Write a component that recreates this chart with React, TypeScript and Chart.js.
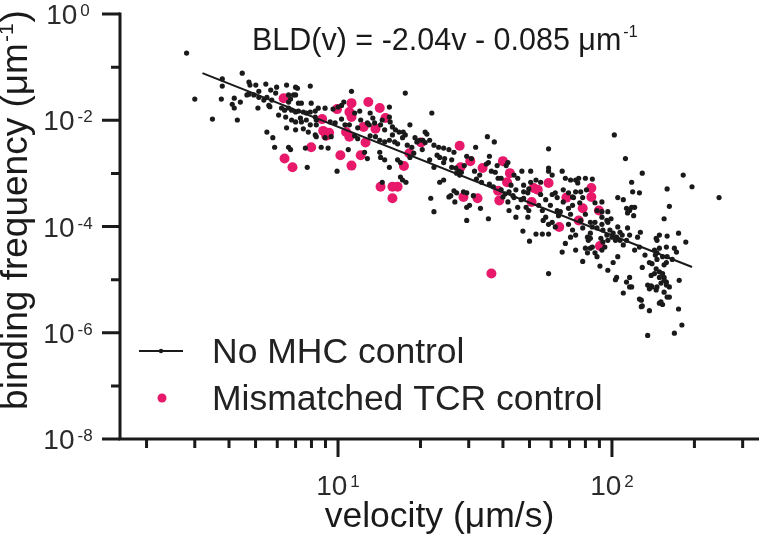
import React, { useEffect, useRef } from "react";
import { Chart, registerables } from "chart.js";

Chart.register(...registerables);

// ---------- data (velocity µm/s, binding frequency µm^-1) ----------
const noMhcControl: [number, number][] = [
  [2.80, 0.184], [4.47, 0.077], [3.78, 0.060], [3.78, 0.044], [3.00, 0.025], [3.75, 0.025], [4.18, 0.026], [4.40, 0.022],
  [4.11, 0.020], [4.18, 0.017], [3.48, 0.0105], [4.29, 0.0101], [4.73, 0.0525], [4.77, 0.046], [5.01, 0.046], [5.45, 0.048],
  [5.68, 0.037], [5.97, 0.042], [5.92, 0.0325], [6.49, 0.046], [7.00, 0.042], [7.11, 0.040], [6.88, 0.030], [7.92, 0.044],
  [4.73, 0.031], [5.14, 0.035], [4.65, 0.030], [5.14, 0.027], [5.50, 0.027], [5.59, 0.019], [5.64, 0.018], [5.10, 0.017],
  [6.60, 0.030], [6.71, 0.025], [6.60, 0.022], [7.00, 0.030], [7.35, 0.021], [7.17, 0.021], [7.98, 0.021], [6.22, 0.017],
  [6.38, 0.0155], [6.60, 0.017], [6.77, 0.0155], [7.00, 0.0143], [7.17, 0.0149], [7.47, 0.0143], [7.66, 0.0137], [7.92, 0.0143],
  [8.26, 0.0149], [6.44, 0.0115], [6.77, 0.0101], [7.00, 0.0093], [7.29, 0.0110], [7.35, 0.0093], [7.66, 0.0101], [8.26, 0.0115],
  [8.33, 0.0101], [6.49, 0.0072], [7.00, 0.0066], [7.47, 0.0069], [7.79, 0.0060], [5.50, 0.0060], [5.78, 0.0047], [5.87, 0.0031],
  [6.60, 0.0031], [6.71, 0.0028], [7.60, 0.0030], [7.72, 0.0013], [8.26, 0.0053], [8.33, 0.0049], [8.47, 0.0169], [8.97, 0.0169],
  [5.73, 0.024], [6.07, 0.0125], [5.36, 0.024], [4.93, 0.030], [8.33, 0.0082], [7.92, 0.0082],
  [11.2, 0.035], [17.6, 0.0325], [10.5, 0.022], [10.3, 0.019], [10.0, 0.0177], [9.59, 0.0162], [11.5, 0.0137], [12.0, 0.0149],
  [13.1, 0.0137], [15.4, 0.0177], [15.4, 0.0115], [15.5, 0.0093], [22.0, 0.0137], [9.36, 0.0093], [9.76, 0.0089], [10.3, 0.0105],
  [10.6, 0.0082], [12.1, 0.0101], [12.8, 0.0089], [13.0, 0.0082], [13.6, 0.0089], [14.3, 0.0082], [14.8, 0.0066], [15.8, 0.0075],
  [16.2, 0.0066], [16.7, 0.0060], [17.3, 0.0060], [17.6, 0.0053], [18.3, 0.0082], [20.8, 0.0060], [21.1, 0.0055], [9.44, 0.0049],
  [8.97, 0.0047], [11.5, 0.0051], [11.8, 0.0045], [13.1, 0.0051], [13.7, 0.0049], [14.2, 0.0042], [14.8, 0.0039], [15.4, 0.0042],
  [16.1, 0.0039], [16.5, 0.0036], [19.1, 0.0047], [19.4, 0.0039], [19.8, 0.0042], [20.4, 0.0042], [20.8, 0.0038], [21.6, 0.0042],
  [22.4, 0.0034], [23.3, 0.0031], [24.3, 0.0030], [25.4, 0.0028], [26.5, 0.0025], [9.20, 0.0030], [8.68, 0.0031], [10.9, 0.0028],
  [12.5, 0.0025], [12.8, 0.0019], [14.2, 0.0025], [14.3, 0.0020], [14.8, 0.0018], [15.4, 0.0013], [16.5, 0.0018], [16.9, 0.0016],
  [18.3, 0.0020], [18.9, 0.0024], [21.6, 0.0018], [22.4, 0.0013], [23.5, 0.0020], [24.3, 0.0016], [26.0, 0.0013], [26.9, 0.00126],
  [9.92, 0.0011], [16.9, 0.00085], [17.2, 0.00075], [17.7, 0.00068], [14.5, 0.00068], [21.8, 0.00034], [22.4, 0.00019], [26.5, 0.00047],
  [27.1, 0.00043], [25.4, 0.00036], [23.5, 0.00068], [24.3, 0.00075], [25.8, 0.00038], [26.7, 0.00029], [29.5, 0.00023], [29.5, 0.00013],
  [13.4, 0.011], [14.5, 0.0101], [11.8, 0.0072], [11.0, 0.0082], [15.8, 0.0053], [17.2, 0.0047], [17.9, 0.0034], [18.6, 0.0031],
  [20.3, 0.0028], [23.0, 0.0022], [24.5, 0.0019], [26.0, 0.0018], [27.6, 0.0011], [28.9, 0.0014],
  [35.1, 0.0049], [37.2, 0.0039], [58.7, 0.0029], [31.8, 0.0031], [29.5, 0.0021], [30.7, 0.0019], [35.7, 0.0021], [35.4, 0.0016],
  [34.8, 0.0015], [41.7, 0.0016], [41.1, 0.0014], [38.1, 0.0014], [37.5, 0.00105], [38.4, 0.00081], [43.9, 0.00093], [45.3, 0.00081],
  [46.9, 0.0011], [50.5, 0.0011], [52.8, 0.00075], [54.9, 0.00068], [58.7, 0.0011], [60.5, 0.00093], [65.8, 0.0011], [67.6, 0.00081],
  [70.6, 0.00075], [73.7, 0.00075], [75.6, 0.00081], [75.0, 0.00066], [80.0, 0.00081], [84.8, 0.00078], [80.7, 0.00049], [78.2, 0.00035],
  [76.3, 0.00028], [72.4, 0.00035], [71.8, 0.00025], [69.4, 0.00022], [29.5, 0.00043], [31.2, 0.00038], [30.2, 0.00025], [33.1, 0.00022],
  [35.4, 0.00014], [40.0, 0.00036], [41.7, 0.00029], [42.1, 0.00020], [43.9, 0.00035], [45.3, 0.00023], [44.6, 0.00015], [48.6, 0.00023],
  [49.7, 0.00020], [49.3, 0.00015], [54.0, 0.00025], [55.7, 0.00020], [57.3, 0.00015], [56.1, 0.00013], [58.7, 0.00011], [60.5, 0.00012],
  [63.1, 0.00020], [63.8, 0.00016], [62.1, 0.000098], [47.3, 0.000082], [52.8, 0.000072], [55.7, 0.000072], [58.7, 0.000072], [50.0, 0.000053],
  [69.4, 0.00011], [71.8, 0.000086], [73.7, 0.000069], [70.6, 0.000063], [78.2, 0.000094], [81.4, 0.000063], [83.4, 0.000060], [67.6, 0.000048],
  [73.7, 0.000036], [65.8, 0.000033], [78.2, 0.000022], [90.4, 0.000018], [84.8, 0.000041], [86.7, 0.000032], [81.4, 0.000032], [49.7, 0.00051],
  [47.6, 0.00045], [46.6, 0.00032], [47.6, 0.00034], [39.4, 0.00049], [40.7, 0.00041], [42.1, 0.00045], [43.5, 0.00038], [32.0, 0.00078],
  [33.4, 0.00068], [35.7, 0.00063], [36.9, 0.00056], [28.2, 0.00105], [27.8, 0.00093], [27.1, 0.00101], [28.7, 0.00045], [50.5, 0.00068],
  [47.6, 0.00060], [49.3, 0.00043], [62.1, 0.00043], [63.1, 0.00035], [60.5, 0.00040], [66.4, 0.00049], [69.4, 0.00043], [66.4, 0.00029],
  [73.7, 0.00045], [71.8, 0.00036], [76.9, 0.00045], [86.7, 0.00028], [88.2, 0.00020], [91.9, 0.00029], [91.9, 0.00015], [91.9, 0.00011],
  [84.8, 0.000098], [88.2, 0.000094], [92.7, 0.000086], [58.7, 0.00126],
  [31.5, 0.0011], [32.9, 0.00093], [36.3, 0.0011], [39.4, 0.00081], [42.8, 0.00060], [44.6, 0.00049], [54.9, 0.00040], [57.3, 0.00032],
  [59.6, 0.00025], [64.8, 0.00019], [70.6, 0.00017], [76.9, 0.00013], [80.0, 0.00017], [83.4, 0.00012],
  [112, 0.0019], [129, 0.00101], [182, 0.00093], [196, 0.00056], [246, 0.00035], [118, 0.00068], [159, 0.00051], [126, 0.00043],
  [162, 0.00024], [155, 0.00014], [175, 0.000075], [186, 0.000051], [105, 0.00035], [110, 0.00032], [113, 0.00022], [114, 0.00018],
  [118, 0.00023], [120, 0.00016], [96.6, 0.00019], [95.8, 0.00013], [99.2, 0.00014], [105, 0.000098], [107, 0.000078], [104, 0.000063],
  [114, 0.000094], [116, 0.000069], [113, 0.000055], [127, 0.000078], [124, 0.000063], [126, 0.000041], [145, 0.000060], [149, 0.000069],
  [159, 0.000066], [169, 0.000039], [172, 0.000033], [143, 0.000036], [144, 0.000029], [146, 0.000024], [159, 0.000027], [166, 0.000024],
  [155, 0.000019], [140, 0.000020], [145, 0.000016], [149, 0.000014], [153, 0.000013], [155, 0.000011], [158, 0.0000090], [151, 0.0000086],
  [162, 0.0000073], [139, 0.000012], [135, 0.0000079], [140, 0.0000073], [145, 0.0000064], [155, 0.0000058], [162, 0.0000047], [149, 0.0000036],
  [153, 0.0000034], [126, 0.0000043], [128, 0.0000031], [137, 0.0000026], [175, 0.0000028], [180, 0.0000014], [169, 0.00000098], [135, 0.00000089],
  [104, 0.000011], [110, 0.0000056], [116, 0.0000073], [113, 0.0000090], [96.6, 0.000015], [101, 0.000021], [105, 0.000027], [91.9, 0.000036],
  [88.2, 0.000027], [83.4, 0.000039], [94.2, 0.000041], [96.6, 0.000055], [92.7, 0.000051], [91.1, 0.000060], [82.0, 0.000055], [83.4, 0.000075],
  [80.0, 0.000039], [109, 0.000069], [107, 0.000055], [98.3, 0.000086], [101, 0.000075], [100, 0.000063], [86.7, 0.00012], [91.9, 0.00019],
  [96.6, 0.00012], [119, 0.00045], [116, 0.00020], [121, 0.00023], [146, 0.000055], [149, 0.000039], [158, 0.000041], [146, 0.000032],
  [153, 0.000027], [158, 0.000021],
  [95.8, 0.000069], [103, 0.000055], [110, 0.000045], [121, 0.000036], [132, 0.000029], [137, 0.000021], [129, 0.000017],
  [103, 0.000010], [116, 0.000011], [118, 0.0000073], [128, 0.0000041], [129, 0.0000032], [137, 0.0000067], [139, 0.0000076], [143, 0.000013],
  [149, 0.000011], [146, 0.0000073], [155, 0.0000097], [158, 0.0000079], [159, 0.0000047], [176, 0.0000097], [151, 0.0000038],
  [102, 0.0053], [58.7, 0.000013],
];

const mismatchedTcrControl: [number, number][] = [
  [6.33, 0.026], [8.75, 0.0105], [7.98, 0.0031], [6.38, 0.0019], [6.82, 0.0013], [8.83, 0.0063], [9.05, 0.0051], [9.92, 0.0162],
  [11.2, 0.021], [12.9, 0.022], [14.2, 0.017], [11.0, 0.0143], [11.2, 0.0115], [14.9, 0.011], [9.28, 0.0058], [10.7, 0.0060],
  [11.0, 0.0049], [12.4, 0.0075], [13.7, 0.0069], [10.2, 0.0022], [12.1, 0.0022], [11.2, 0.0014], [17.4, 0.00138], [20.1, 0.0038],
  [27.8, 0.0033], [28.0, 0.0013], [14.3, 0.00056], [15.8, 0.00056], [16.5, 0.00056], [15.8, 0.00034], [28.7, 0.00036], [30.4, 0.0017],
  [33.7, 0.00126], [40.0, 0.0017], [42.4, 0.00101], [41.4, 0.00068], [38.4, 0.00047], [38.8, 0.00031], [32.3, 0.00034], [51.8, 0.00053],
  [53.6, 0.00049], [50.9, 0.00029], [58.7, 0.00066], [68.2, 0.00035], [64.2, 0.000098], [84.1, 0.00053], [84.1, 0.00036], [89.6, 0.00020],
  [90.4, 0.000043], [36.3, 0.000013], [18.2, 0.0024], [78.2, 0.00022], [75.6, 0.00013], [12.6, 0.0038],
];

// fitted line BLD(v): endpoints of the drawn segment
const fitVelocity = [3.2, 196];
const fitFrequency = [0.077, 0.0000173];

// axes
const xMin = 1.6;
const xMax = 330;
const yMin = 1e-8;
const yMax = 1;
const xMajorTicks = [10, 100];
const xMajorExponents = ["1", "2"];
const xMinorTicks = [2, 3, 4, 5, 6, 7, 8, 9, 20, 30, 40, 50, 60, 70, 80, 90, 200, 300];
const yMajorTicks = [1, 1e-2, 1e-4, 1e-6, 1e-8];
const yMajorExponents = ["0", "-2", "-4", "-6", "-8"];
const yMinorTicks = [1e-1, 1e-3, 1e-5, 1e-7];

// texts
const titleText = "BLD(v) = -2.04v - 0.085 μm";
const titleSup = "-1";
const xTitle = "velocity (μm/s)";
const yTitleText = "binding frequency (μm";
const yTitleSup = "-1";
const yTitleEnd = ")";
const legendLabels = ["No MHC control", "Mismatched TCR control"];

const PINK = "#E8196A";
const INK = "#1a1a1a";
const FONT = '"Liberation Sans", Arial, Helvetica, sans-serif';

const decorPlugin = {
  id: "decor",
  afterDraw(chart: any) {
    const { ctx, chartArea } = chart;
    const xs = chart.scales.x;
    const ys = chart.scales.y;
    const left = chartArea.left;
    const bottom = chartArea.bottom;
    ctx.save();
    ctx.strokeStyle = INK;
    ctx.lineWidth = 3;
    ctx.lineCap = "butt";
    // axes
    ctx.beginPath();
    ctx.moveTo(left, chartArea.top - 1.5);
    ctx.lineTo(left, bottom + 1.5);
    ctx.moveTo(left - 1.5, bottom);
    ctx.lineTo(chart.width, bottom);
    ctx.stroke();
    // y ticks
    ctx.beginPath();
    for (const t of yMajorTicks) {
      const py = ys.getPixelForValue(t);
      ctx.moveTo(left - 18, py);
      ctx.lineTo(left, py);
    }
    for (const t of yMinorTicks) {
      const py = ys.getPixelForValue(t);
      ctx.moveTo(left - 9, py);
      ctx.lineTo(left, py);
    }
    // x ticks
    for (const t of xMajorTicks) {
      const px = xs.getPixelForValue(t);
      ctx.moveTo(px, bottom);
      ctx.lineTo(px, bottom + 18);
    }
    for (const t of xMinorTicks) {
      const px = xs.getPixelForValue(t);
      ctx.moveTo(px, bottom);
      ctx.lineTo(px, bottom + 9);
    }
    ctx.stroke();

    // tick labels
    const baseFont = `28px ${FONT}`;
    const supFont = `17px ${FONT}`;
    ctx.fillStyle = "#2a2a2a";
    ctx.textBaseline = "alphabetic";
    ctx.textAlign = "left";
    const drawPow = (exp: string, cx: number, baseY: number) => {
      ctx.font = baseFont;
      const w1 = ctx.measureText("10").width;
      ctx.font = supFont;
      const w2 = ctx.measureText(exp).width;
      const total = w1 + 3 + w2;
      const x0 = cx - total / 2;
      ctx.font = baseFont;
      ctx.fillText("10", x0, baseY);
      ctx.font = supFont;
      ctx.fillText(exp, x0 + w1 + 3, baseY - 8);
    };
    yMajorTicks.forEach((t, i) => {
      const py = ys.getPixelForValue(t);
      drawPow(yMajorExponents[i], 68, py + 10);
    });
    xMajorTicks.forEach((t, i) => {
      const px = xs.getPixelForValue(t);
      drawPow(xMajorExponents[i], px, bottom + 56);
    });

    // axis titles
    ctx.fillStyle = INK;
    ctx.font = `35.5px ${FONT}`;
    ctx.textAlign = "center";
    ctx.fillText(xTitle, (left + chart.width) / 2, bottom + 88);

    ctx.save();
    ctx.translate(27, 210);
    ctx.rotate(-Math.PI / 2);
    ctx.textAlign = "left";
    ctx.font = `37px ${FONT}`;
    const a = ctx.measureText(yTitleText).width;
    const c = ctx.measureText(yTitleEnd).width;
    ctx.font = `21px ${FONT}`;
    const b = ctx.measureText(yTitleSup).width;
    const tot = a + b + 2 + c;
    let sx = -tot / 2;
    ctx.font = `37px ${FONT}`;
    ctx.fillText(yTitleText, sx, 0);
    sx += a + 1;
    ctx.font = `21px ${FONT}`;
    ctx.fillText(yTitleSup, sx, -14);
    sx += b + 1;
    ctx.font = `37px ${FONT}`;
    ctx.fillText(yTitleEnd, sx, 0);
    ctx.restore();

    // equation title
    ctx.textAlign = "left";
    ctx.font = `30.5px ${FONT}`;
    ctx.fillText(titleText, 252, 50);
    const tw = ctx.measureText(titleText).width;
    ctx.font = `16px ${FONT}`;
    ctx.fillText(titleSup, 252 + tw + 2, 37);

    // legend
    ctx.strokeStyle = INK;
    ctx.lineWidth = 2;
    ctx.beginPath();
    ctx.moveTo(139, 351);
    ctx.lineTo(183, 351);
    ctx.stroke();
    ctx.fillStyle = INK;
    ctx.beginPath();
    ctx.arc(161, 351, 2.2, 0, Math.PI * 2);
    ctx.fill();
    ctx.fillStyle = PINK;
    ctx.beginPath();
    ctx.arc(162, 398, 4.5, 0, Math.PI * 2);
    ctx.fill();
    ctx.fillStyle = "#222";
    ctx.font = `35.5px ${FONT}`;
    ctx.fillText(legendLabels[0], 212, 363);
    ctx.fillText(legendLabels[1], 212, 410);
    ctx.restore();
  },
};

export default function App() {
  const ref = useRef<HTMLCanvasElement | null>(null);
  useEffect(() => {
    if (!ref.current) return;
    const chart = new Chart(ref.current, {
      type: "scatter",
      data: {
        datasets: [
          {
            label: "fit",
            data: fitVelocity.map((v, i) => ({ x: v, y: fitFrequency[i] })),
            showLine: true,
            borderColor: INK,
            borderWidth: 2,
            pointRadius: 0,
            order: 0,
          },
          {
            label: legendLabels[0],
            data: noMhcControl.map(([v, f]) => ({ x: v, y: f })),
            backgroundColor: INK,
            borderWidth: 0,
            pointRadius: 2.6,
            order: 1,
          },
          {
            label: legendLabels[1],
            data: mismatchedTcrControl.map(([v, f]) => ({ x: v, y: f })),
            backgroundColor: PINK,
            borderWidth: 0,
            pointRadius: 5,
            order: 2,
          },
        ],
      },
      options: {
        animation: false,
        responsive: false,
        devicePixelRatio: 1,
        layout: { padding: { top: 14, right: 0, left: 0, bottom: 0 } },
        plugins: { legend: { display: false }, tooltip: { enabled: false } },
        scales: {
          x: {
            type: "logarithmic",
            min: xMin,
            max: xMax,
            grid: { display: false },
            border: { display: false },
            ticks: { display: false },
            afterFit: (s: any) => {
              s.height = 103;
            },
          },
          y: {
            type: "logarithmic",
            min: yMin,
            max: yMax,
            grid: { display: false },
            border: { display: false },
            ticks: { display: false },
            afterFit: (s: any) => {
              s.width = 120;
            },
          },
        },
      },
      plugins: [decorPlugin],
    });
    return () => chart.destroy();
  }, []);
  return (
    <div style={{ position: "absolute", left: 0, top: 0, width: 759, height: 542, background: "#fff" }}>
      <canvas ref={ref} width={759} height={542} />
    </div>
  );
}
